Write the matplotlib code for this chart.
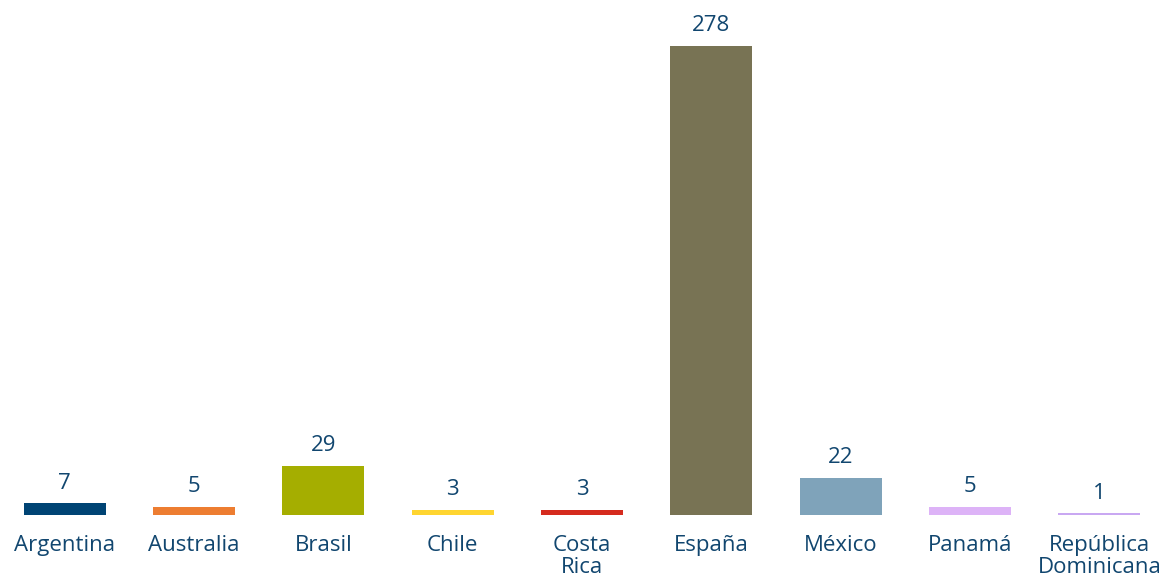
import numpy as np
import matplotlib.pyplot as plt

paises = ['Argentina', 'Australia', 'Brasil', 'Chile', 'Costa\nRica', 'España',
          'México', 'Panamá', 'República\nDominicana']
valores = [7, 5, 29, 3, 3, 278, 22, 5, 1]
colores = ['#004474', '#ED7D31', '#A5AE00', '#FFD530', '#D52B1E', '#787354',
           '#7FA3BA', '#DDB3F7', '#C9A8F2']

TEXTO = '#11466F'
plt.rcParams['font.family'] = ['Open Sans', 'DejaVu Sans']

fig = plt.figure(figsize=(11.64, 5.84), dpi=100)
ax = fig.add_axes([0, 0.118, 1, 0.803])

x = np.arange(len(paises))
bars = ax.bar(x, valores, width=0.635, color=colores)

for b, v in zip(bars, valores):
    ax.annotate(str(v), (b.get_x() + b.get_width() / 2, v), xytext=(0, 7),
                textcoords='offset points', ha='center', va='bottom',
                fontsize=16, color=TEXTO)

ax.set_xlim(-0.5, len(paises) - 0.5)
ax.set_ylim(0, 278)
ax.set_xticks(x)
ax.set_xticklabels(paises, fontsize=16, color=TEXTO, linespacing=1.12)
ax.tick_params(axis='x', length=0, pad=14)
ax.set_yticks([])
for s in ax.spines.values():
    s.set_visible(False)

fig.savefig('out.png', dpi=100)
